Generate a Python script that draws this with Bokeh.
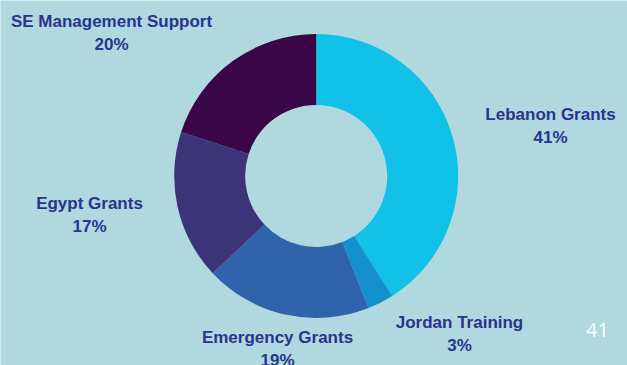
import math
from bokeh.plotting import figure
from bokeh.models import Range1d, ColumnDataSource
from bokeh.core.properties import value
from bokeh.embed import file_html
from bokeh.resources import INLINE

categories = ["Lebanon Grants", "Jordan Training", "Emergency Grants", "Egypt Grants", "SE Management Support"]
shares = [41, 3, 19, 17, 20]
colors = ["#12C1E8", "#1590CF", "#3063AC", "#3C3479", "#3A0647"]

# label anchor positions (page pixels, x, y-from-top of the name line)
label_x = [550, 459, 277, 89, 111]
label_y = [114, 322, 337, 203, 21]

BG = "#B0D8DF"
TXT = "#28348E"
W, H = 627, 365

p = figure(width=W, height=H, output_backend="svg", toolbar_location=None,
           x_range=Range1d(0, W), y_range=Range1d(0, H),
           background_fill_color=BG, border_fill_color=BG, outline_line_color=None,
           min_border=0)
p.axis.visible = False
p.grid.visible = False

cx, cy = 315.7, H - 175.5
r_out, r_in = 142, 71

total = sum(shares)
starts, ends = [], []
acc = 0
for s in shares:
    starts.append(math.pi / 2 - 2 * math.pi * acc / total)
    acc += s
    ends.append(math.pi / 2 - 2 * math.pi * acc / total)

src = ColumnDataSource(dict(start=starts, end=ends, color=colors))
p.annular_wedge(x=cx, y=cy, inner_radius=r_in, outer_radius=r_out,
                start_angle="start", end_angle="end", direction="clock",
                fill_color="color", line_color=None, source=src)

lsrc = ColumnDataSource(dict(
    x=label_x,
    y=[H - v for v in label_y],
    y2=[H - v - 23 for v in label_y],
    name=categories,
    pct=[f"{s}%" for s in shares],
))
p.text(x="x", y="y", text="name", source=lsrc, text_align="center", text_baseline="middle",
       text_font=value("Liberation Sans"), text_font_style="bold", text_font_size="17px",
       text_color=TXT)
p.text(x="x", y="y2", text="pct", source=lsrc, text_align="center", text_baseline="middle",
       text_font=value("Liberation Sans"), text_font_style="bold", text_font_size="17px",
       text_color=TXT)

p.text(x=[597], y=[H - 329], text=["41"], text_align="center", text_baseline="middle",
       text_font=value("Open Sans"), text_font_size="20px", text_color="#FFFFFF")

html = file_html(p, INLINE)
html = html.replace("<body>", f'<body style="background:{BG};">', 1)
open("out.html", "w").write(html)
